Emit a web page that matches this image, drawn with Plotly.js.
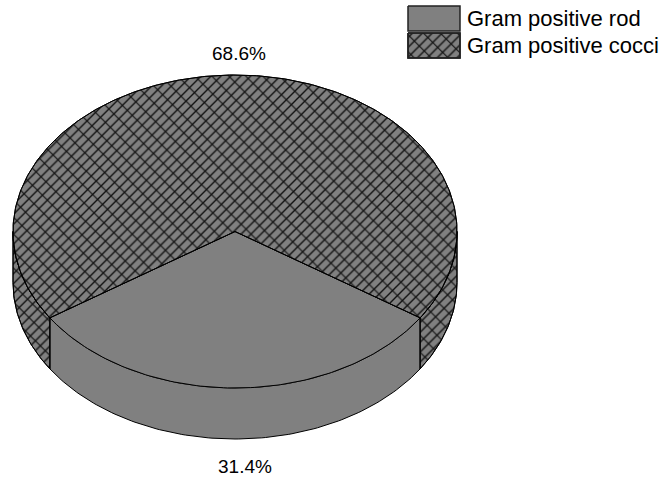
<!DOCTYPE html>
<html><head><meta charset="utf-8">
<script src="https://cdn.plot.ly/plotly-3.0.1.min.js"></script>
<style>html,body{margin:0;padding:0;background:#fff}#chart{width:670px;height:479px}</style>
</head><body><div id="chart"></div>
<script>
const categories = ['Gram positive rod', 'Gram positive cocci'];
const values = [31.4, 68.6];
const valueLabels = ['31.4%', '68.6%'];

// drawing geometry on hidden pixel-like axes
const CX = 235, CY = 231.5, RX = 222, RY = 156.5, DEPTH = 51;
const GRAY = '#808080';
const FONT = 'Arial, "Liberation Sans", sans-serif';
const total = values.reduce((a, b) => a + b, 0);

// angle spans, first slice centred at the front (90deg, y grows downwards)
const spans = [];
let start = 90 - values[0] / total * 180;
values.forEach(v => { const sw = v / total * 360; spans.push([start, start + sw]); start += sw; });

function pt(deg, dy) { const r = deg * Math.PI / 180; return [CX + RX * Math.cos(r), CY + RY * Math.sin(r) + (dy || 0)]; }
function arc(a, b, dy) {
  const xs = [], ys = [];
  const n = Math.max(2, Math.ceil(Math.abs(b - a)));
  for (let i = 0; i <= n; i++) { const p = pt(a + (b - a) * i / n, dy); xs.push(p[0]); ys.push(p[1]); }
  return [xs, ys];
}
const patterned = [false, true];

function polyTraces(xs, ys, isPat) {
  const base = {
    type: 'scatter', mode: 'lines', x: xs, y: ys, fill: 'toself', fillcolor: GRAY,
    line: { color: '#000', width: 1 }, hoverinfo: 'skip', showlegend: false
  };
  if (!isPat) return [base];
  base.fillpattern = { shape: '/', bgcolor: GRAY, fgcolor: '#111', size: 7, solidity: 0.2 };
  const over = {
    type: 'scatter', mode: 'lines', x: xs, y: ys, fill: 'toself', fillcolor: 'rgba(0,0,0,0)',
    line: { color: '#000', width: 1 }, hoverinfo: 'skip', showlegend: false,
    fillpattern: { shape: '\\', bgcolor: 'rgba(0,0,0,0)', fgcolor: '#111', size: 12, solidity: 0.1 }
  };
  return [base, over];
}

const traces = [];
// side walls (only the front half, 0..180deg, is visible)
spans.forEach((s, i) => {
  for (let k = 0; k < 3; k++) {
    const lo = Math.max(s[0], 360 * k), hi = Math.min(s[1], 360 * k + 180);
    if (hi - lo <= 0) continue;
    const top = arc(lo, hi, 0), bot = arc(hi, lo, DEPTH);
    const xs = top[0].concat(bot[0], [top[0][0]]);
    const ys = top[1].concat(bot[1], [top[1][0]]);
    polyTraces(xs, ys, patterned[i]).forEach(t => { t.name = categories[i]; traces.push(t); });
  }
});
// top faces
spans.forEach((s, i) => {
  const a = arc(s[0], s[1], 0);
  const xs = [CX].concat(a[0], [CX]);
  const ys = [CY].concat(a[1], [CY]);
  polyTraces(xs, ys, patterned[i]).forEach(t => { t.name = categories[i]; traces.push(t); });
});

// legend swatches
const LEG = { x0: 408, x1: 460, y0: [6, 33], h: 25 };
categories.forEach((c, i) => {
  const y0 = LEG.y0[i], y1 = y0 + LEG.h;
  polyTraces([LEG.x0, LEG.x1, LEG.x1, LEG.x0, LEG.x0], [y0, y0, y1, y1, y0], patterned[i]).forEach(t => {
    t.line = { color: '#222', width: 1.5 }; traces.push(t);
  });
});

const annotations = [];
spans.forEach((s, i) => {
  const mid = (s[0] + s[1]) / 2;
  const p = pt(mid, 0);
  const front = Math.sin(mid * Math.PI / 180) > 0;
  annotations.push({
    x: p[0] + (front ? 10 : 4), y: front ? p[1] + DEPTH + 27 : p[1] - 22,
    xref: 'x', yref: 'y', text: valueLabels[i], showarrow: false,
    font: { family: FONT, size: 19, color: '#000' }, xanchor: 'center', yanchor: 'middle'
  });
});
categories.forEach((c, i) => {
  annotations.push({
    x: LEG.x1 + 5, y: LEG.y0[i] + LEG.h / 2, xref: 'x', yref: 'y', text: c, showarrow: false,
    font: { family: FONT, size: 22, color: '#000' }, xanchor: 'left', yanchor: 'middle'
  });
});

const layout = {
  width: 670, height: 479, margin: { l: 0, r: 0, t: 0, b: 0 },
  paper_bgcolor: '#fff', plot_bgcolor: '#fff', showlegend: false,
  xaxis: { range: [0, 670], visible: false, fixedrange: true },
  yaxis: { range: [479, 0], visible: false, fixedrange: true },
  annotations: annotations
};
Plotly.newPlot('chart', traces, layout, { displayModeBar: false, staticPlot: true });
</script></body></html>
